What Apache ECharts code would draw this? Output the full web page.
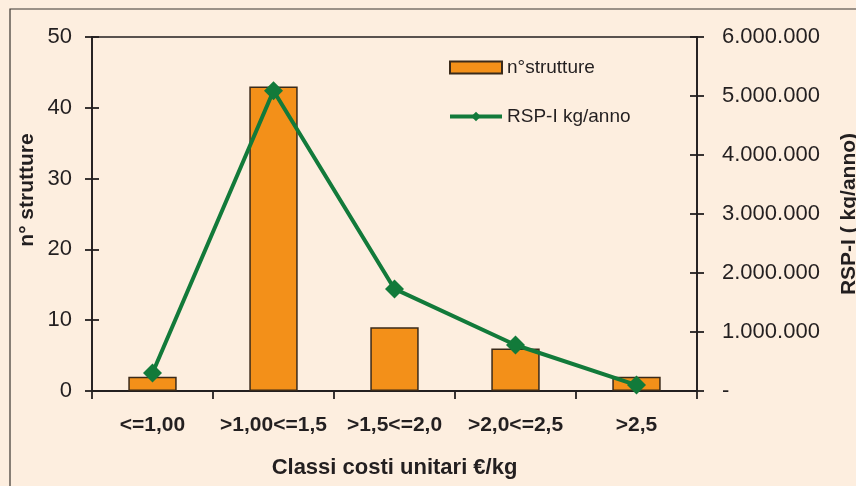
<!DOCTYPE html>
<html>
<head>
<meta charset="utf-8">
<script src="https://cdn.jsdelivr.net/npm/echarts@6/dist/echarts.min.js"></script>
<style>
html,body{margin:0;padding:0;background:#FDEEDF;}
#c{width:856px;height:486px;}
</style>
</head>
<body>
<div id="c"></div>
<script>
const categories = ['<=1,00', '>1,00<=1,5', '>1,5<=2,0', '>2,0<=2,5', '>2,5'];
const strutture = [2, 43, 9, 6, 2];
const rspKgAnno = [305000, 5090000, 1730000, 780000, 100000];
const leftTicks = [0, 10, 20, 30, 40, 50];
const rightTicks = [0, 1000000, 2000000, 3000000, 4000000, 5000000, 6000000];

const chart = echarts.init(document.getElementById('c'), null, {renderer: 'canvas'});
const axisColor = '#231F20';
const fontFam = 'Liberation Sans, Arial, sans-serif';
function fmtDots(v){
  if (v === 0) return '-';
  return String(v).replace(/\B(?=(\d{3})+(?!\d))/g, '.');
}
const lMin = leftTicks[0], lMax = leftTicks[leftTicks.length-1];
const rMin = rightTicks[0], rMax = rightTicks[rightTicks.length-1];
chart.setOption({
  backgroundColor: '#FDEEDF',
  animation: false,
  graphic: [{
    type: 'rect', shape: {x: 10, y: 9, width: 900, height: 600},
    style: {fill: 'none', stroke: '#3a3530', lineWidth: 1.2}, silent: true
  }],
  grid: {left: 92, right: 159, top: 37, bottom: 95, show: true, borderColor: axisColor, borderWidth: 1.5,
         backgroundColor: 'transparent', outerBoundsMode: 'none', containLabel: false},
  legend: {
    orient: 'vertical', left: 443, top: 53, itemGap: 30, itemWidth: 52, itemHeight: 12,
    textStyle: {fontFamily: fontFam, fontSize: 19, color: '#231F20'},
    data: [
      {name: 'n°strutture', icon: 'rect'},
      {name: 'RSP-I kg/anno', lineStyle: {width: 4}}
    ]
  },
  xAxis: {
    type: 'category', data: categories,
    axisLine: {lineStyle: {color: axisColor, width: 1.8}},
    axisTick: {show: true, interval: 0, length: 8, lineStyle: {color: axisColor, width: 1.8}},
    axisLabel: {interval: 0, margin: 24, fontFamily: fontFam, fontWeight: 'bold', fontSize: 21, color: '#231F20'},
    name: 'Classi costi unitari €/kg', nameLocation: 'middle', nameGap: 66,
    nameTextStyle: {fontFamily: fontFam, fontWeight: 'bold', fontSize: 22, color: '#231F20'}
  },
  yAxis: [{
    type: 'value', min: lMin, max: lMax, interval: 10,
    axisLine: {show: true, lineStyle: {color: axisColor, width: 1.8}},
    axisTick: {show: true, length: 7, lineStyle: {color: axisColor, width: 1.8}},
    splitLine: {show: false},
    axisLabel: {margin: 20, fontFamily: fontFam, fontSize: 22, color: '#231F20'},
    name: 'n° strutture', nameLocation: 'middle', nameGap: 54, nameRotate: 90, nameMoveOverlap: false,
    nameTextStyle: {fontFamily: fontFam, fontWeight: 'bold', fontSize: 21, color: '#231F20', padding: [0, 0, 0, 48]}
  }, {
    type: 'value', min: rMin, max: rMax, interval: 1000000,
    position: 'right',
    axisLine: {show: true, lineStyle: {color: axisColor, width: 1.8}},
    axisTick: {show: true, length: 7, lineStyle: {color: axisColor, width: 1.8}},
    splitLine: {show: false},
    axisLabel: {margin: 25, fontFamily: fontFam, fontSize: 22, color: '#231F20', formatter: fmtDots},
    name: 'RSP-I ( kg/anno)', nameLocation: 'middle', nameGap: 142, nameRotate: 90, nameMoveOverlap: false,
    nameTextStyle: {fontFamily: fontFam, fontWeight: 'bold', fontSize: 21, color: '#231F20'}
  }, {
    type: 'value', min: lMin, max: lMax, interval: 10, position: 'left',
    axisLine: {show: false}, axisLabel: {show: false}, splitLine: {show: false},
    axisTick: {show: true, inside: true, length: 7, lineStyle: {color: axisColor, width: 1.8}}
  }, {
    type: 'value', min: rMin, max: rMax, interval: 1000000, position: 'right',
    axisLine: {show: false}, axisLabel: {show: false}, splitLine: {show: false},
    axisTick: {show: true, inside: true, length: 7, lineStyle: {color: axisColor, width: 1.8}}
  }],
  series: [{
    name: 'n°strutture', type: 'bar', data: strutture, yAxisIndex: 0, barWidth: '40%',
    itemStyle: {color: '#F39019', borderColor: '#3a2a1a', borderWidth: 1.5}
  }, {
    name: 'RSP-I kg/anno', type: 'line', data: rspKgAnno, yAxisIndex: 1,
    symbol: 'diamond', symbolSize: 19,
    lineStyle: {color: '#127A3A', width: 4},
    itemStyle: {color: '#127A3A'}
  }]
});
</script>
</body>
</html>
